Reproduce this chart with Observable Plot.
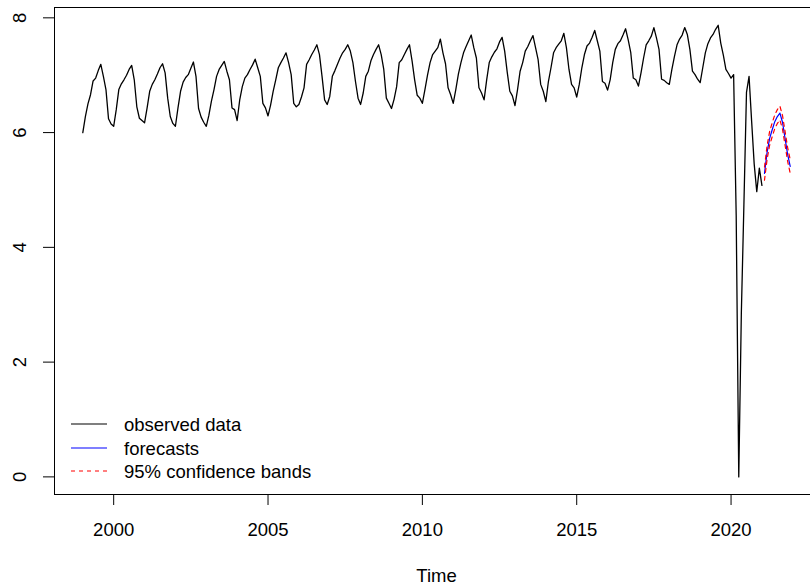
<!DOCTYPE html>
<html>
<head>
<meta charset="utf-8">
<script src="https://cdn.jsdelivr.net/npm/d3@7"></script>
<script src="https://cdn.jsdelivr.net/npm/@observablehq/plot@0.6"></script>
<style>
  html, body { margin: 0; padding: 0; background: #fff; overflow: hidden; }
  #wrap { position: relative; width: 810px; height: 586px; overflow: hidden; }
  #wrap > svg { max-width: none !important; }
  #legend { position: absolute; left: 0; top: 0; pointer-events: none; }
</style>
</head>
<body>
<div id="wrap"></div>
<script>
// Monthly observed series (log scale), Jan 1999 onward
const obs1999 = [6.00, 6.28, 6.50, 6.66, 6.90, 6.95, 7.08, 7.19, 6.98, 6.75, 6.24, 6.15];
const obs2000 = [6.11, 6.40, 6.75, 6.85, 6.92, 7.00, 7.10, 7.17, 6.92, 6.45, 6.25, 6.21];
const obs2001 = [6.17, 6.43, 6.72, 6.84, 6.92, 7.02, 7.13, 7.20, 7.04, 6.60, 6.28, 6.16];
const obs2002 = [6.11, 6.43, 6.72, 6.88, 6.96, 7.01, 7.12, 7.23, 6.98, 6.42, 6.27, 6.18];
const obs2003 = [6.11, 6.30, 6.55, 6.75, 6.98, 7.10, 7.17, 7.24, 7.07, 6.92, 6.43, 6.40];
const obs2004 = [6.21, 6.57, 6.80, 6.95, 7.01, 7.10, 7.18, 7.28, 7.13, 6.98, 6.51, 6.43];
const obs2005 = [6.29, 6.48, 6.72, 6.92, 7.13, 7.22, 7.30, 7.39, 7.22, 7.01, 6.51, 6.45];
const obs2006 = [6.49, 6.62, 6.78, 7.19, 7.27, 7.36, 7.44, 7.53, 7.36, 6.98, 6.57, 6.49];
const obs2007 = [6.63, 6.98, 7.08, 7.19, 7.30, 7.39, 7.45, 7.53, 7.42, 7.22, 6.89, 6.60];
const obs2008 = [6.49, 6.69, 6.98, 7.07, 7.25, 7.36, 7.45, 7.53, 7.36, 7.10, 6.60, 6.51];
const obs2009 = [6.42, 6.58, 6.80, 7.22, 7.27, 7.36, 7.45, 7.53, 7.25, 6.92, 6.65, 6.60];
const obs2010 = [6.51, 6.75, 7.00, 7.22, 7.36, 7.42, 7.48, 7.63, 7.39, 7.20, 6.78, 6.66];
const obs2011 = [6.51, 6.75, 7.02, 7.22, 7.39, 7.50, 7.60, 7.70, 7.48, 7.30, 6.78, 6.69];
const obs2012 = [6.57, 6.92, 7.22, 7.32, 7.40, 7.46, 7.58, 7.66, 7.42, 7.05, 6.72, 6.64];
const obs2013 = [6.47, 6.75, 7.07, 7.22, 7.42, 7.50, 7.60, 7.69, 7.48, 7.27, 6.84, 6.72];
const obs2014 = [6.54, 6.89, 7.13, 7.39, 7.48, 7.54, 7.60, 7.73, 7.48, 7.10, 6.84, 6.78];
const obs2015 = [6.62, 6.84, 7.13, 7.36, 7.51, 7.56, 7.66, 7.78, 7.60, 7.42, 6.89, 6.86];
const obs2016 = [6.74, 6.92, 7.22, 7.45, 7.55, 7.60, 7.70, 7.81, 7.62, 7.40, 6.95, 6.92];
const obs2017 = [6.81, 7.04, 7.30, 7.53, 7.60, 7.68, 7.83, 7.65, 7.45, 6.93, 6.91, 6.87];
const obs2018 = [6.84, 7.10, 7.33, 7.53, 7.63, 7.70, 7.83, 7.71, 7.45, 7.07, 7.01, 6.93];
const obs2019 = [6.87, 7.13, 7.39, 7.55, 7.65, 7.71, 7.80, 7.87, 7.56, 7.35, 7.10, 7.03];
const obs2020 = [6.95, 7.01, 4.56, 0.00, 2.85, 4.75, 6.70, 6.98, 6.20, 5.45, 4.97, 5.38];
const obs2021 = [5.08];

// Forecast period, Feb 2021 onward
const forecast = [5.29, 5.65, 5.90, 6.05, 6.19, 6.28, 6.34, 6.18, 5.90, 5.62, 5.41];
const upper95  = [5.40, 5.77, 6.02, 6.17, 6.31, 6.40, 6.46, 6.30, 6.02, 5.74, 5.53];
const lower95  = [5.17, 5.53, 5.78, 5.93, 6.07, 6.16, 6.22, 6.06, 5.78, 5.50, 5.29];

const xTicks = [2000, 2005, 2010, 2015, 2020];
const yTicks = [0, 2, 4, 6, 8];
const legendLabels = ["observed data", "forecasts", "95% confidence bands"];
const legendColors = ["#000000", "#0000ff", "#ff0000"];
const legendDashes = ["none", "none", "4,4"];

const observedValues = [
  obs1999, obs2000, obs2001, obs2002, obs2003, obs2004, obs2005, obs2006,
  obs2007, obs2008, obs2009, obs2010, obs2011, obs2012, obs2013, obs2014,
  obs2015, obs2016, obs2017, obs2018, obs2019, obs2020, obs2021
].flat();

const observed = observedValues.map((v, i) => ({t: 1999 + i / 12, v}));
const fcStart = 2021 + 1 / 12;
const fc = forecast.map((v, i) => ({t: fcStart + i / 12, v, hi: upper95[i], lo: lower95[i]}));

const font = "'Liberation Sans', Arial, Helvetica, sans-serif";

const chart = Plot.plot({
  width: 830,
  height: 586,
  marginLeft: 54,
  marginRight: 12,
  marginTop: 7,
  marginBottom: 92,
  style: {fontSize: "18.5px", fontFamily: font, color: "#000", background: "#fff", maxWidth: "none"},
  x: {domain: [1998.083, 2022.833], label: null},
  y: {domain: [-0.307, 8.18], label: null},
  marks: [
    Plot.frame({stroke: "#000", strokeWidth: 1}),
    Plot.axisX({ticks: xTicks, tickFormat: d => String(d), tickSize: 11, tickPadding: 17, label: null}),
    Plot.axisY({ticks: yTicks, tickFormat: () => "", tickSize: 11, label: null}),
    Plot.text(yTicks, {y: d => d, text: d => String(d), frameAnchor: "left", rotate: -90, dx: -34, lineAnchor: "middle", textAnchor: "middle"}),
    Plot.text(["Time"], {frameAnchor: "bottom", text: d => d, dy: 82, lineAnchor: "middle"}),
    Plot.line(observed, {x: "t", y: "v", stroke: "#000", strokeWidth: 1.3}),
    Plot.line(fc, {x: "t", y: "v", stroke: "#0000ff", strokeWidth: 1.2}),
    Plot.line(fc, {x: "t", y: "hi", stroke: "#ff0000", strokeWidth: 1.2, strokeDasharray: "4,4"}),
    Plot.line(fc, {x: "t", y: "lo", stroke: "#ff0000", strokeWidth: 1.2, strokeDasharray: "4,4"})
  ]
});

const wrap = document.getElementById("wrap");
wrap.appendChild(chart);

// Legend in the lower-left corner of the plotting region
const legendRowsY = [424, 448, 471];
const legendItems = legendLabels.map((label, i) => ({label, color: legendColors[i], dash: legendDashes[i], y: legendRowsY[i]}));
const lg = d3.select(wrap).append("svg")
  .attr("id", "legend")
  .attr("width", 810).attr("height", 586);
const rows = lg.selectAll("g.item").data(legendItems).join("g")
  .attr("class", "item")
  .attr("transform", d => `translate(0, ${d.y})`);
rows.append("path")
  .attr("d", "M71,0H107")
  .style("fill", "none")
  .style("stroke", d => d.color)
  .style("stroke-width", "1.2px")
  .style("stroke-dasharray", d => d.dash);
rows.append("text")
  .attr("x", 124).attr("y", 0.5).attr("dy", "0.35em")
  .style("font-family", font).style("font-size", "18.5px")
  .style("fill", "#000")
  .text(d => d.label);
</script>
</body>
</html>
